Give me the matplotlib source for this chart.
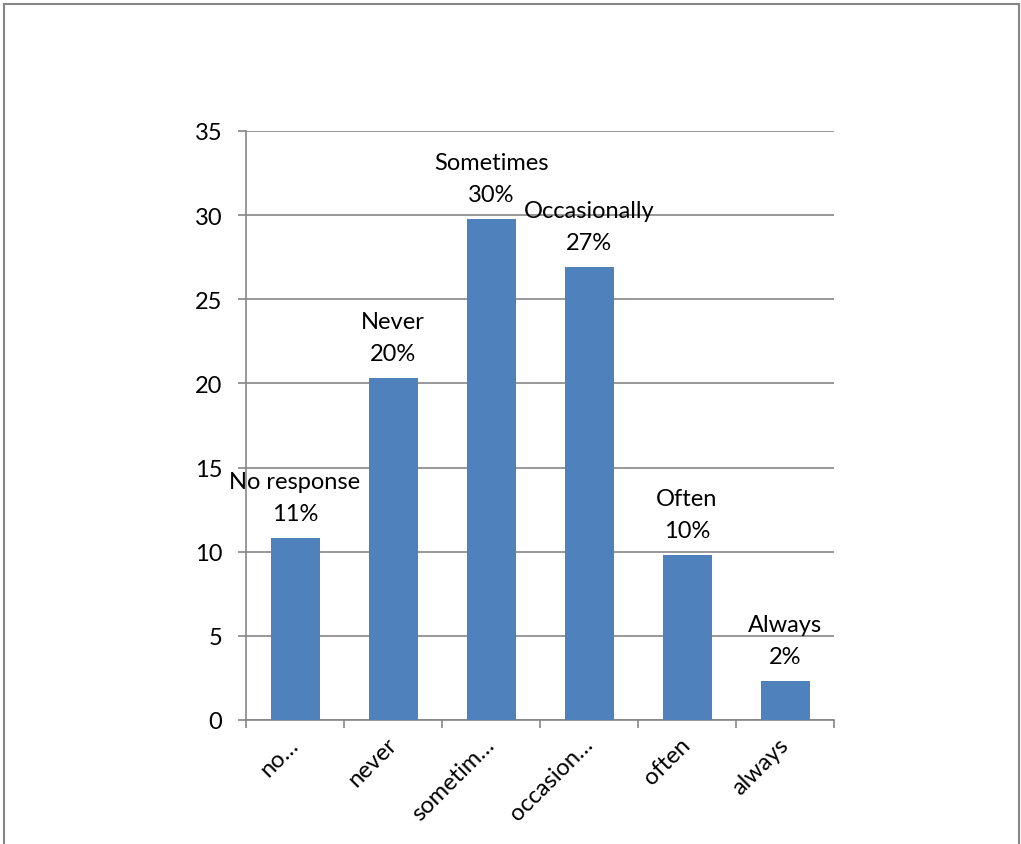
import matplotlib
matplotlib.use("Agg")
import matplotlib.pyplot as plt
from matplotlib.patches import Rectangle
import numpy as np

# Daten
categories = ["no\u2026", "never", "sometim\u2026", "occasion\u2026", "often", "always"]
values = [10.8, 20.3, 29.8, 26.9, 9.8, 2.3]
label_names = ["No response", "Never", "Sometimes", "Occasionally", "Often", "Always"]
label_pcts = ["11%", "20%", "30%", "27%", "10%", "2%"]
y_ticks = [0, 5, 10, 15, 20, 25, 30, 35]

plt.rcParams['font.family'] = ['Lato', 'DejaVu Sans']
fs = 17
grey = '#868686'
bar_color = '#4F81BD'

fig = plt.figure(figsize=(10.21, 8.45), dpi=100)
ax = fig.add_axes([246 / 1021, 1 - 721 / 845, (834 - 246) / 1021, (721 - 132) / 845])

x = np.arange(len(categories))
ax.bar(x, values, width=0.5, color=bar_color, zorder=3)

ax.set_xlim(-0.5, len(categories) - 0.5)
ax.set_ylim(0, 35)
ax.set_yticks(y_ticks)
ax.set_yticklabels([str(t) for t in y_ticks], fontsize=fs)
ax.yaxis.grid(True, color=grey, linewidth=1.2, zorder=0)
ax.tick_params(axis='y', length=6, width=1.2, color=grey, pad=11)

# Kategorie-Beschriftungen (45 Grad)
ax.set_xticks(x)
ax.set_xticklabels(categories, fontsize=fs, rotation=45, ha='right',
                   va='center', rotation_mode='anchor')
ax.tick_params(axis='x', which='major', length=0, pad=15)
ax.set_xticks(np.arange(len(categories) + 1) - 0.5, minor=True)
ax.tick_params(axis='x', which='minor', length=6, width=1.2, color=grey)

for side in ['top', 'right']:
    ax.spines[side].set_visible(False)
for side in ['left', 'bottom']:
    ax.spines[side].set_color(grey)
    ax.spines[side].set_linewidth(1.2)

# Datenbeschriftungen
for xi, v, name, pct in zip(x, values, label_names, label_pcts):
    ax.annotate(name + "\n" + pct, (xi, v), xytext=(0, 10), textcoords='offset points',
                ha='center', va='bottom', fontsize=fs, linespacing=1.65,
                annotation_clip=False, zorder=4)

# Rahmen um die Grafik
fig.patches.append(Rectangle((3.5 / 1021, -0.05), (1019 - 3.5) / 1021, 1.05 - 4.5 / 845,
                             transform=fig.transFigure, fill=False,
                             edgecolor=grey, linewidth=1.5))

fig.savefig("out.png", dpi=100)
plt.close(fig)
